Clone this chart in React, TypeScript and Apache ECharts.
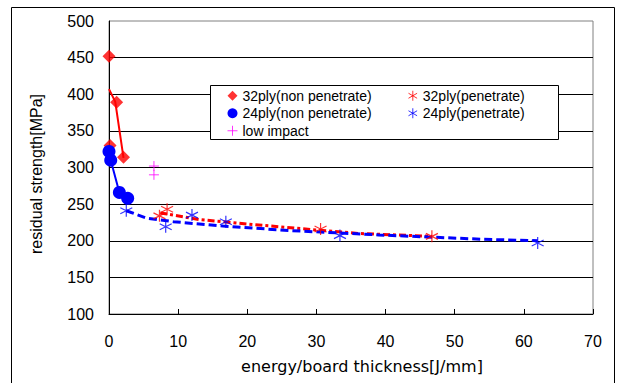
import React, { useEffect, useRef } from "react";
import * as echarts from "echarts";

// x: energy/board thickness [J/mm], y: residual strength [MPa]
const ply32NonPen: number[][] = [[0, 452], [0.15, 330], [1.1, 389], [2.1, 314]];
const ply32NonPenTrend: number[][] = [[0, 407], [0.9, 390], [2.1, 313]];
const ply24NonPen: number[][] = [[0, 322], [0.25, 310], [1.5, 266], [2.7, 258]];
const lowImpact: number[][] = [[6.5, 302], [6.5, 290]];
const ply32Pen: number[][] = [[7.3, 234], [8.4, 243], [30.6, 216], [46.7, 206]];
const ply32PenTrend: number[][] = [[7.4, 238], [13, 229], [21, 222], [36, 210], [46.7, 206]];
const ply24Pen: number[][] = [[2.5, 241], [8.2, 219], [12, 235], [16.9, 226], [33.4, 207], [62, 197]];
const ply24PenTrend: number[][] = [[2.5, 241], [5.4, 231], [9.3, 226], [16.5, 220], [26, 214], [39, 208], [54, 202], [62, 200]];

const legendLeft = ["32ply(non penetrate)", "24ply(non penetrate)", "low impact"];
const legendRight = ["32ply(penetrate)", "24ply(penetrate)"];

const FONT = "'Liberation Sans', Arial, sans-serif";
const WIDE_FONT = "'DejaVu Sans', 'Liberation Sans', sans-serif";
const ASTERISK = "path://M5,0L5,10M0.7,2.5L9.3,7.5M9.3,2.5L0.7,7.5";
const PLUS = "path://M5,0L5,10M0,5L10,5";

export default function App() {
  const ref = useRef<HTMLDivElement>(null);
  useEffect(() => {
    if (!ref.current) return;
    const chart = echarts.init(ref.current, undefined, { renderer: "svg" });
    const legendCommon = {
      orient: "vertical" as const,
      itemWidth: 10,
      itemHeight: 10,
      itemGap: 0,
      top: 82,
      textStyle: { fontFamily: FONT, fontSize: 14, color: "#000", lineHeight: 17.5 },
      itemStyle: { borderWidth: 1 },
      z: 20,
    };
    chart.setOption({
      animation: false,
      backgroundColor: "#fff",
      textStyle: { fontFamily: FONT },
      grid: {
        left: 109,
        top: 21,
        right: 25,
        bottom: 69,
        show: true,
        borderColor: "#808080",
        borderWidth: 1,
        backgroundColor: "transparent",
      },
      legend: [
        { ...legendCommon, left: 222, data: legendLeft },
        { ...legendCommon, left: 403, data: legendRight },
      ],
      xAxis: {
        type: "value",
        min: 0,
        max: 70,
        interval: 10,
        axisLine: { show: true, onZero: false, lineStyle: { color: "#000", width: 1 } },
        axisTick: { show: true, inside: true, length: 5, lineStyle: { color: "#000" } },
        axisLabel: { fontFamily: FONT, fontSize: 16, color: "#000", margin: 19 },
        splitLine: { show: false },
      },
      yAxis: {
        type: "value",
        min: 100,
        max: 500,
        interval: 50,
        axisLine: { show: true, onZero: false, lineStyle: { color: "#000", width: 1 } },
        axisTick: { show: false },
        axisLabel: { fontFamily: FONT, fontSize: 16, color: "#000", margin: 15 },
        splitLine: { show: true, showMaxLine: false, lineStyle: { color: "#000", width: 1 } },
      },
      graphic: [
        {
          type: "rect",
          z: 0,
          shape: { x: 11.5, y: 7.5, width: 603, height: 400 },
          style: { fill: "none", stroke: "#000", lineWidth: 1 },
          silent: true,
        },
        {
          type: "rect",
          z: 10,
          shape: { x: 210.5, y: 85.5, width: 348, height: 54 },
          style: { fill: "#fff", stroke: "#000", lineWidth: 1 },
          silent: true,
        },
        {
          type: "text",
          x: 36,
          y: 174,
          rotation: Math.PI / 2,
          style: {
            text: "residual strength[MPa]",
            fontFamily: FONT,
            fontSize: 16,
            fill: "#000",
            align: "center",
            verticalAlign: "middle",
          },
        },
        {
          type: "text",
          x: 362,
          y: 366,
          style: {
            text: "energy/board thickness[J/mm]",
            fontFamily: WIDE_FONT,
            fontSize: 16,
            fill: "#000",
            align: "center",
            verticalAlign: "middle",
          },
        },
      ],
      series: [
        {
          name: "32ply trend",
          type: "line",
          data: ply32NonPenTrend,
          symbol: "none",
          lineStyle: { color: "#ff0000", width: 2 },
          z: 2,
        },
        {
          name: "24ply non penetrate line",
          type: "line",
          data: ply24NonPen,
          symbol: "none",
          lineStyle: { color: "#0000ff", width: 2 },
          z: 2,
        },
        {
          name: "32ply pen trend",
          type: "line",
          data: ply32PenTrend,
          symbol: "none",
          lineStyle: { color: "#ff0000", width: 3, type: [7, 3, 3, 3] },
          z: 2,
        },
        {
          name: "24ply pen trend",
          type: "line",
          data: ply24PenTrend,
          symbol: "none",
          lineStyle: { color: "#0000ff", width: 3, type: [8, 4] },
          z: 2,
        },
        {
          name: "32ply(non penetrate)",
          type: "scatter",
          data: ply32NonPen,
          symbol: "diamond",
          symbolSize: 13,
          itemStyle: { color: "#ff0000" },
          z: 3,
        },
        {
          name: "24ply(non penetrate)",
          type: "scatter",
          data: ply24NonPen,
          symbol: "circle",
          symbolSize: 13,
          itemStyle: { color: "#0000ff", opacity: 1 },
          z: 3,
        },
        {
          name: "low impact",
          type: "scatter",
          data: lowImpact,
          symbol: PLUS,
          symbolSize: 10,
          itemStyle: { color: "#ff00ff", borderColor: "#ff00ff", borderWidth: 1 },
          z: 3,
        },
        {
          name: "32ply(penetrate)",
          type: "scatter",
          data: ply32Pen,
          symbol: ASTERISK,
          symbolSize: 12,
          itemStyle: { color: "#ff0000", borderColor: "#ff0000", borderWidth: 1.2 },
          z: 3,
        },
        {
          name: "24ply(penetrate)",
          type: "scatter",
          data: ply24Pen,
          symbol: ASTERISK,
          symbolSize: 12,
          itemStyle: { color: "#0000ff", borderColor: "#0000ff", borderWidth: 1.2 },
          z: 3,
        },
      ],
    });
    return () => chart.dispose();
  }, []);
  return (
    <div
      ref={ref}
      style={{ position: "fixed", left: 0, top: 0, width: 618, height: 383, background: "#fff" }}
    />
  );
}
